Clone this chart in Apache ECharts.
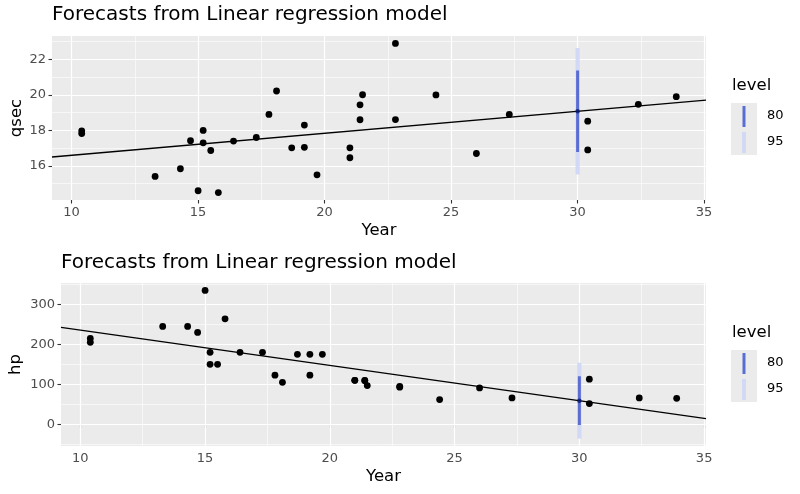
<!DOCTYPE html>
<html>
<head>
<meta charset="utf-8">
<script src="https://cdn.jsdelivr.net/npm/echarts@6/dist/echarts.min.js"></script>
<style>
html,body{margin:0;padding:0;background:#fff;}
#c{width:800px;height:494px;}
</style>
</head>
<body>
<div id="c"></div>
<script>
// ---- data (mtcars) ----
const mpg  = [21.0,21.0,22.8,21.4,18.7,18.1,14.3,24.4,22.8,19.2,17.8,16.4,17.3,15.2,10.4,10.4,14.7,32.4,30.4,33.9,21.5,15.5,15.2,13.3,19.2,27.3,26.0,30.4,15.8,19.7,15.0,21.4];
const qsec = [16.46,17.02,18.61,19.44,17.02,20.22,15.84,20.00,22.90,18.30,18.90,17.40,17.60,18.00,17.98,17.82,17.42,19.47,18.52,19.90,20.01,16.87,17.30,15.41,17.05,18.90,16.70,16.90,14.50,15.50,14.60,18.60];
const hp   = [110,110,93,110,175,105,245,62,95,123,123,180,180,180,205,215,230,66,52,65,97,150,150,245,175,66,91,113,264,175,335,109];
const forecastX = [30];
const qsecInt80 = [16.79, 21.37];
const qsecInt95 = [15.52, 22.64];
const hpInt80 = [-1.7, 120.1];
const hpInt95 = [-35.7, 154.1];
const xTicks = [10,15,20,25,30,35];
const qsecTicks = [16,18,20,22];
const hpTicks = [0,100,200,300];
const levels = ['80','95'];

// ---- helpers ----
function fit(x,y){
  const n=x.length; let mx=0,my=0;
  for(let i=0;i<n;i++){mx+=x[i];my+=y[i];} mx/=n; my/=n;
  let sxy=0,sxx=0;
  for(let i=0;i<n;i++){sxy+=(x[i]-mx)*(y[i]-my);sxx+=(x[i]-mx)*(x[i]-mx);}
  const b=sxy/sxx; return {a:my-b*mx,b:b};
}
function expand(vals){
  const lo=Math.min(...vals), hi=Math.max(...vals), d=(hi-lo)*0.05;
  return [lo-d, hi+d];
}
function minors(ticks, lo, hi){
  const step=ticks[1]-ticks[0]; const out=[];
  for(let v=ticks[0]-step/2; v<hi; v+=step){ if(v>lo && v<hi) out.push(v); }
  return out;
}
const xr = expand(mpg);
const yr1 = expand(qsec.concat(qsecInt80, qsecInt95));
const yr2 = expand(hp.concat(hpInt80, hpInt95));
const f1 = fit(mpg, qsec), f2 = fit(mpg, hp);

const FONT = 'DejaVu Sans';
const c80 = '#5a6dd3', c95 = '#d2d9f6';

function gridLines(idx, yTicks, yr){
  const data=[];
  xTicks.forEach(v=>data.push({xAxis:v, lineStyle:{width:1.2}}));
  minors(xTicks, xr[0], xr[1]).forEach(v=>data.push({xAxis:v, lineStyle:{width:0.6}}));
  yTicks.forEach(v=>data.push({yAxis:v, lineStyle:{width:1.2}}));
  minors(yTicks, yr[0], yr[1]).forEach(v=>data.push({yAxis:v, lineStyle:{width:0.6}}));
  return {
    type:'scatter', xAxisIndex:idx, yAxisIndex:idx, data:[], z:1, silent:true,
    markLine:{silent:true, symbol:'none', z:1, animation:false, label:{show:false},
      lineStyle:{color:'#ffffff', type:'solid'}, data:data}
  };
}
function xAxisDef(idx){
  return {
    gridIndex:idx, type:'value', min:xr[0], max:xr[1],
    name:'Year', nameLocation:'middle', nameGap:22, nameMoveOverlap:false,
    nameTextStyle:{fontFamily:FONT, fontSize:16.5, color:'#000'},
    axisLine:{show:false}, splitLine:{show:false},
    axisTick:{show:true, length:3.5, customValues:xTicks, lineStyle:{color:'#333333', width:1.1}},
    axisLabel:{customValues:xTicks, margin:6, fontFamily:FONT, fontSize:13, color:'#4d4d4d'}
  };
}
function yAxisDef(idx, name, yr, ticks, gap){
  return {
    gridIndex:idx, type:'value', min:yr[0], max:yr[1],
    name:name, nameLocation:'middle', nameGap:gap, nameRotate:90, nameMoveOverlap:false,
    nameTextStyle:{fontFamily:FONT, fontSize:16.5, color:'#000'},
    axisLine:{show:false}, splitLine:{show:false},
    axisTick:{show:true, length:3.5, customValues:ticks, lineStyle:{color:'#333333', width:1.1}},
    axisLabel:{customValues:ticks, margin:6, fontFamily:FONT, fontSize:13, color:'#4d4d4d'}
  };
}
function panelSeries(idx, y, int80, int95, f){
  const fx = forecastX[0];
  return [
    gridLines(idx, idx===0?qsecTicks:hpTicks, idx===0?yr1:yr2),
    {type:'line', name:levels[1], xAxisIndex:idx, yAxisIndex:idx, z:3, symbol:'none', silent:true,
     data:[[fx,int95[0]],[fx,int95[1]]], lineStyle:{color:c95, width:4.2, cap:'butt'}},
    {type:'line', name:levels[0], xAxisIndex:idx, yAxisIndex:idx, z:4, symbol:'none', silent:true,
     data:[[fx,int80[0]],[fx,int80[1]]], lineStyle:{color:c80, width:3, cap:'butt'}},
    {type:'line', name:'fit', xAxisIndex:idx, yAxisIndex:idx, z:5, symbol:'none', silent:true,
     data:[[xr[0], f.a+f.b*xr[0]],[xr[1], f.a+f.b*xr[1]]], lineStyle:{color:'#000', width:1.4}},
    {type:'scatter', name:'obs', xAxisIndex:idx, yAxisIndex:idx, z:6, symbolSize:6.8,
     itemStyle:{color:'#000', opacity:1}, data:mpg.map((v,i)=>[v,y[i]])},
    {type:'scatter', name:'point', xAxisIndex:idx, yAxisIndex:idx, z:7, symbolSize:4.5,
     itemStyle:{color:'#0a1a70'}, data:[[fx, f.a+f.b*fx]]}
  ];
}
function legendGraphic(top){
  return [
    {type:'text', left:732, top:top+77, z:10, style:{text:'level', font:'16.5px "DejaVu Sans"', fill:'#000'}},
    {type:'rect', left:731, top:top+103, z:10, shape:{width:26, height:52}, style:{fill:'#ebebeb'}},
    {type:'rect', left:742.5, top:top+106, z:11, shape:{width:3, height:21}, style:{fill:c80}},
    {type:'rect', left:742, top:top+132, z:11, shape:{width:4, height:21}, style:{fill:c95}},
    {type:'text', left:767, top:top+109, z:10, style:{text:'80', font:'13px "DejaVu Sans"', fill:'#000'}},
    {type:'text', left:767, top:top+135, z:10, style:{text:'95', font:'13px "DejaVu Sans"', fill:'#000'}}
  ];
}

const chart = echarts.init(document.getElementById('c'), null, {renderer:'canvas'});
chart.setOption({
  animation:false,
  backgroundColor:'#ffffff',
  textStyle:{fontFamily:FONT},
  title:[
    {text:'Forecasts from Linear regression model', left:52, top:5, padding:0,
     textStyle:{fontFamily:FONT, fontSize:20, fontWeight:'normal', color:'#000'}},
    {text:'Forecasts from Linear regression model', left:61, top:253, padding:0,
     textStyle:{fontFamily:FONT, fontSize:20, fontWeight:'normal', color:'#000'}}
  ],
  grid:[
    {left:52, right:94, top:36, height:164, show:true, backgroundColor:'#ebebeb', borderWidth:0,
     containLabel:false, outerBoundsMode:'none'},
    {left:61, right:94, top:283, height:163, show:true, backgroundColor:'#ebebeb', borderWidth:0,
     containLabel:false, outerBoundsMode:'none'}
  ],
  xAxis:[xAxisDef(0), xAxisDef(1)],
  yAxis:[yAxisDef(0,'qsec',yr1,qsecTicks,27), yAxisDef(1,'hp',yr2,hpTicks,37)],
  series: panelSeries(0, qsec, qsecInt80, qsecInt95, f1).concat(panelSeries(1, hp, hpInt80, hpInt95, f2)),
  graphic: legendGraphic(0).concat(legendGraphic(247))
});
</script>
</body>
</html>
